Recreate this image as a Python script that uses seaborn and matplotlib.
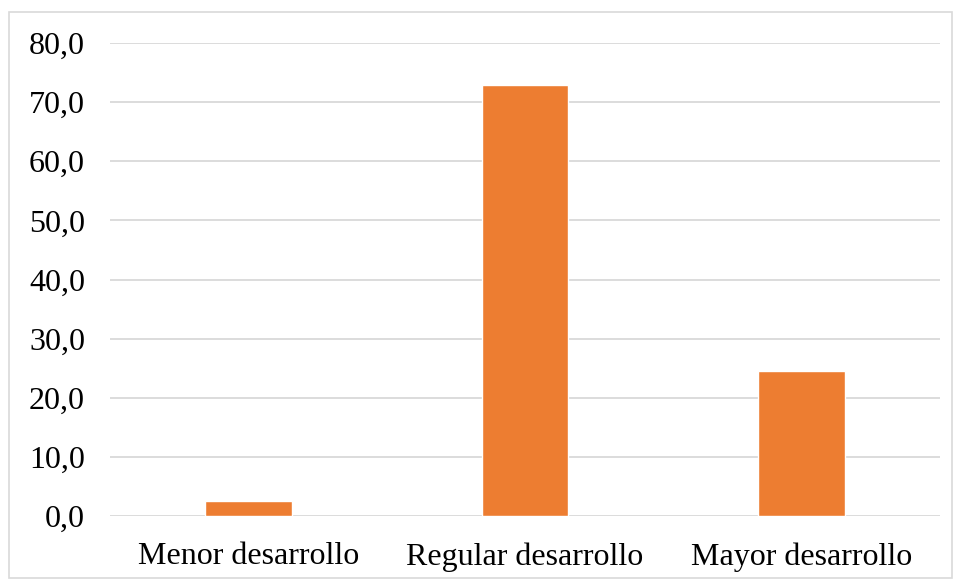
import matplotlib
matplotlib.use("Agg")
import matplotlib.pyplot as plt
import seaborn as sns
import pandas as pd
from matplotlib.patches import Rectangle
from matplotlib.ticker import FuncFormatter

categorias = ["Menor desarrollo", "Regular desarrollo", "Mayor desarrollo"]
porcentajes = [2.6, 72.9, 24.5]

df = pd.DataFrame({"categoria": categorias, "valor": porcentajes})

sns.set_style("white")
plt.rcParams['font.family'] = ['Liberation Serif', 'DejaVu Serif']

fig = plt.figure(figsize=(9.55, 5.8), dpi=100)
ax = fig.add_axes([0.1152, 0.1103, 0.8691, 0.8156])

sns.barplot(data=df, x="categoria", y="valor", color="#ED7D31",
            width=0.314, saturation=1, ax=ax, zorder=3)

ax.set_ylim(0, 80)
ax.set_yticks(range(0, 81, 10))
ax.yaxis.set_major_formatter(FuncFormatter(lambda v, p: f"{v:.1f}".replace(".", ",")))
ax.grid(axis="y", color="#d9d9d9", linewidth=1.3, zorder=0)
ax.set_axisbelow(True)
for s in ax.spines.values():
    s.set_visible(False)
ax.tick_params(axis="both", length=0, labelsize=23, colors="black")
ax.tick_params(axis="y", pad=18)
ax.tick_params(axis="x", pad=19)
ax.set_xlabel("")
ax.set_ylabel("")

fig.patches.append(Rectangle((9 / 955, 2 / 580), 943 / 955, 566 / 580,
                             transform=fig.transFigure, fill=False,
                             edgecolor="#d9d9d9", linewidth=1.2))

fig.savefig("out.png", dpi=100, facecolor="white")
